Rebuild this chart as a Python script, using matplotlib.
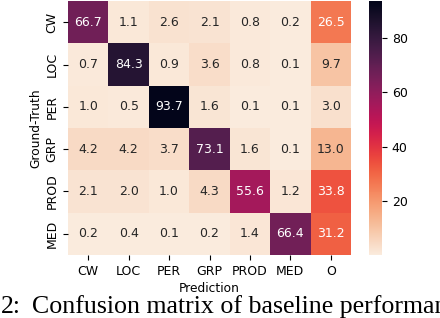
import numpy as np
import matplotlib
matplotlib.use("Agg")
import matplotlib.pyplot as plt
import seaborn as sns

pred_labels = ["CW", "LOC", "PER", "GRP", "PROD", "MED", "O"]
true_labels = ["CW", "LOC", "PER", "GRP", "PROD", "MED"]
cw = [66.7, 1.1, 2.6, 2.1, 0.8, 0.2, 26.5]
loc = [0.7, 84.3, 0.9, 3.6, 0.8, 0.1, 9.7]
per = [1.0, 0.5, 93.7, 1.6, 0.1, 0.1, 3.0]
grp = [4.2, 4.2, 3.7, 73.1, 1.6, 0.1, 13.0]
prod = [2.1, 2.0, 1.0, 4.3, 55.6, 1.2, 33.8]
med = [0.2, 0.4, 0.1, 0.2, 1.4, 66.4, 31.2]
matrix = np.array([cw, loc, per, grp, prod, med])

W, H = 440, 318
fig = plt.figure(figsize=(W / 100, H / 100), dpi=100)
ax = fig.add_axes([68 / W, 1 - 255 / H, (351 - 68) / W, (255 - 1) / H])
cax = fig.add_axes([369 / W, 1 - 255 / H, (382 - 369) / W, (255 - 1) / H])

sns.heatmap(matrix, ax=ax, cbar_ax=cax, cmap="rocket_r", annot=True, fmt=".1f",
            annot_kws={"fontsize": 9}, xticklabels=pred_labels, yticklabels=true_labels)
ax.tick_params(axis="both", labelsize=9, length=3.5)
ax.set_yticklabels(true_labels, rotation=90, va="center")
ax.set_xticklabels(pred_labels, rotation=0)
ax.set_xlabel("Prediction", fontsize=8.8, labelpad=3)
ax.set_ylabel("Ground-Truth", fontsize=8.8, labelpad=2)
cax.tick_params(labelsize=9, length=3.5)
cax.set_yticks([20, 40, 60, 80])

fig.text(1 / W, (H - 313) / H, "2:", fontsize=18.6, family="Liberation Serif",
         va="baseline", ha="left")
fig.text(32 / W, (H - 313) / H, "Confusion matrix of baseline performance",
         fontsize=18.6, family="Liberation Serif", va="baseline", ha="left")

fig.savefig("out.png", dpi=100)
